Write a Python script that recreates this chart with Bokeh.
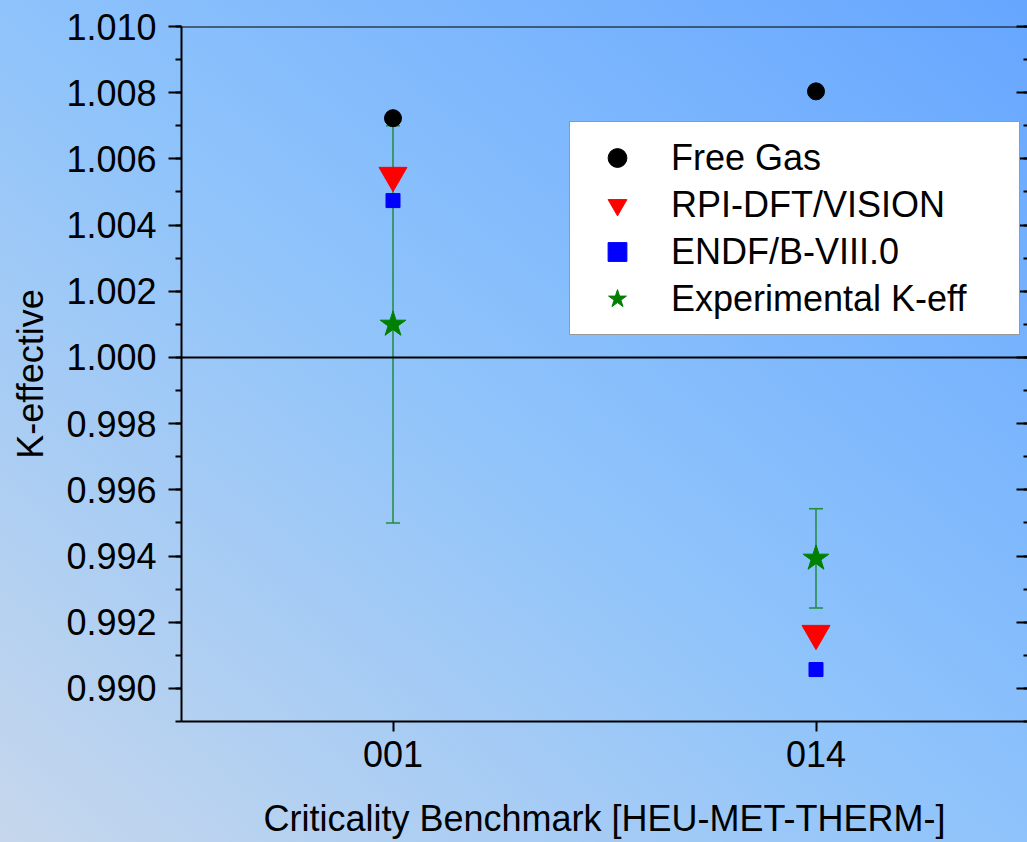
from bokeh.plotting import figure
from bokeh.models import (FactorRange, Range1d, LinearAxis, SingleIntervalTicker,
                          NumeralTickFormatter, CustomJSTickFormatter, Span, Whisker,
                          ColumnDataSource, Legend, LegendItem, TeeHead)
from bokeh.embed import file_html
from bokeh.resources import INLINE

# ---------------- data ----------------
benchmarks = ["001", "014"]
free_gas = [1.00723, 1.00804]
rpi_dft_vision = [1.0055, 0.99166]
endf_b_viii = [1.00474, 0.99057]
experimental = [1.0010, 0.99393]
experimental_unc = [0.0060, 0.0015]
y_min, y_max = 0.989, 1.010

FONT = "Liberation Sans"
GREEN = "#008000"
BAR_GREEN = "#238a3e"

src = ColumnDataSource(dict(
    x=benchmarks,
    fg=free_gas,
    rpi=rpi_dft_vision,
    endf=endf_b_viii,
    exp=experimental,
    upper=[v + u for v, u in zip(experimental, experimental_unc)],
    lower=[v - u for v, u in zip(experimental, experimental_unc)],
))

p = figure(width=1027, height=842, x_range=FactorRange(*benchmarks), y_range=Range1d(y_min, y_max),
           output_backend="svg", toolbar_location=None,
           min_border_left=181, min_border_top=26, min_border_bottom=121, min_border_right=0)

p.background_fill_alpha = 0
p.border_fill_alpha = 0
p.outline_line_color = None
p.grid.visible = False
p.styles = {"background": "linear-gradient(to top right, #c6d7ec 0%, #8ec3fb 50%, #66a6ff 100%)"}

# left axis
ya = p.yaxis[0]
ya.ticker = SingleIntervalTicker(interval=0.002, num_minor_ticks=2)
ya.formatter = NumeralTickFormatter(format="0.000")
ya.axis_label = "K-effective"
ya.axis_label_text_font = FONT
ya.axis_label_text_font_size = "36px"
ya.axis_label_text_font_style = "normal"
ya.axis_label_text_color = "black"
ya.axis_label_standoff = 12
ya.major_label_text_font = FONT
ya.major_label_text_font_size = "36px"
ya.major_label_text_color = "black"
ya.major_label_standoff = 12
ya.axis_line_width = 2
ya.major_tick_line_width = 2
ya.minor_tick_line_width = 2
ya.major_tick_out = 13
ya.major_tick_in = 0
ya.minor_tick_out = 6
ya.minor_tick_in = 0

# bottom axis
xa = p.xaxis[0]
xa.axis_label = "Criticality Benchmark [HEU-MET-THERM-]"
xa.axis_label_text_font = FONT
xa.axis_label_text_font_size = "36px"
xa.axis_label_text_font_style = "normal"
xa.axis_label_text_color = "black"
xa.axis_label_standoff = 28
xa.major_label_text_font = FONT
xa.major_label_text_font_size = "36px"
xa.major_label_text_color = "black"
xa.major_label_standoff = 9
xa.axis_line_width = 2
xa.major_tick_line_width = 2
xa.major_tick_out = 10
xa.major_tick_in = 0

# right axis (ticks inward only, no labels)
ry = LinearAxis(ticker=SingleIntervalTicker(interval=0.002, num_minor_ticks=2),
                formatter=CustomJSTickFormatter(code="return ''"), major_label_standoff=0,
                major_tick_in=11, major_tick_out=0, minor_tick_in=4, minor_tick_out=0,
                axis_line_color=None, major_tick_line_width=2, minor_tick_line_width=2)
p.add_layout(ry, "right")

# top frame line and reference line at 1.000
p.add_layout(Span(location=y_max, dimension="width", line_color="black", line_width=2))
p.add_layout(Span(location=1.0, dimension="width", line_color="black", line_width=2))

r_fg = p.scatter(x="x", y="fg", source=src, marker="circle", size=17, color="black")
r_rpi = p.scatter(x="x", y="rpi", source=src, marker="inverted_triangle", size=28, color="#ff0000")
r_endf = p.scatter(x="x", y="endf", source=src, marker="square", size=14, color="#0000ff")

w = Whisker(base="x", upper="upper", lower="lower", source=src, dimension="height",
            line_color=BAR_GREEN, line_width=1.5,
            upper_head=TeeHead(size=14, line_color=BAR_GREEN, line_width=1.5),
            lower_head=TeeHead(size=14, line_color=BAR_GREEN, line_width=1.5))
p.add_layout(w)

r_exp = p.scatter(x="x", y="exp", source=src, marker="star", size=27, color=GREEN)

legend = Legend(items=[
    LegendItem(label="Free Gas", renderers=[r_fg]),
    LegendItem(label="RPI-DFT/VISION", renderers=[r_rpi]),
    LegendItem(label="ENDF/B-VIII.0", renderers=[r_endf]),
    LegendItem(label="Experimental K-eff", renderers=[r_exp]),
], location=(388, 386), margin=0, padding=12, spacing=0,
    glyph_width=70, glyph_height=47, label_height=47, label_width=336, label_standoff=19,
    label_text_font=FONT, label_text_font_size="36px", label_text_color="black",
    border_line_color="#333333", border_line_width=1,
    background_fill_color="white", background_fill_alpha=1.0)
p.add_layout(legend, "center")

open("out.html", "w").write(file_html(p, INLINE))
